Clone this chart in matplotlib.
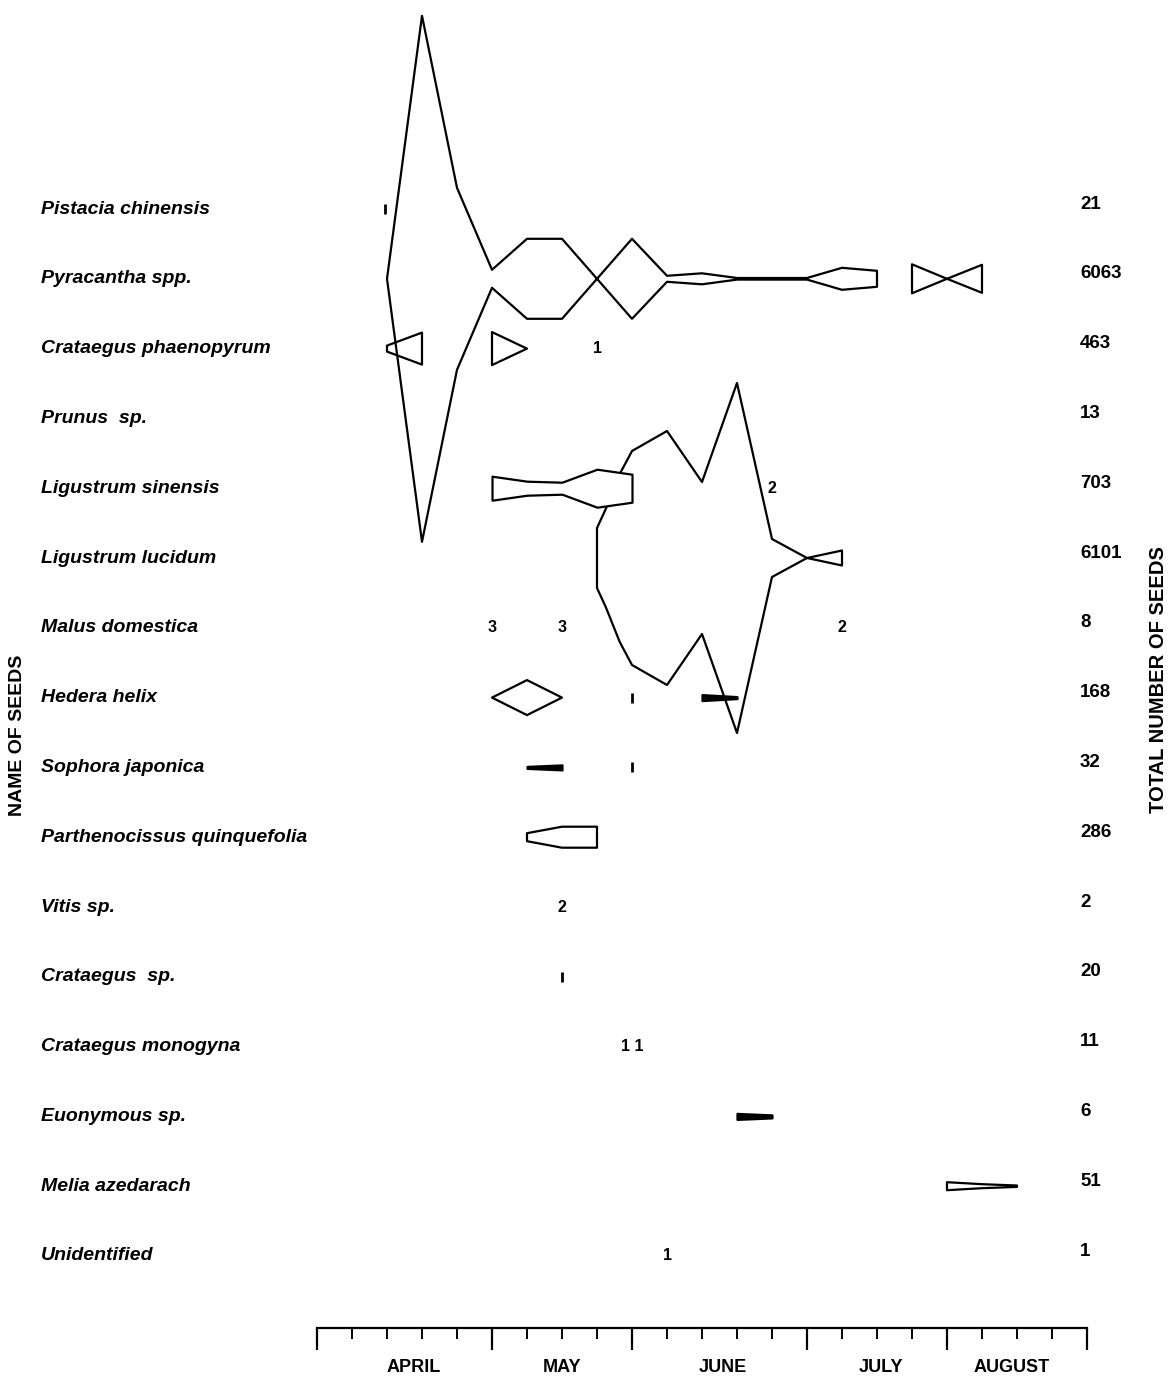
import numpy as np
import matplotlib.pyplot as plt
from matplotlib.ticker import FixedLocator

# Seeds found per week (x axis in weeks from start of April)
species = ["Pistacia chinensis", "Pyracantha spp.", "Crataegus phaenopyrum",
           "Prunus  sp.", "Ligustrum sinensis", "Ligustrum lucidum",
           "Malus domestica", "Hedera helix", "Sophora japonica",
           "Parthenocissus quinquefolia", "Vitis sp.", "Crataegus  sp.",
           "Crataegus monogyna", "Euonymous sp.", "Melia azedarach",
           "Unidentified"]
totals = [21, 6063, 463, 13, 703, 6101, 8, 168, 32, 286, 2, 20, 11, 6, 51, 1]

months = ["APRIL", "MAY", "JUNE", "JULY", "AUGUST"]
month_label_wk = [2.75, 7.0, 11.6, 16.1, 19.85]
month_start_wk = [0, 5, 9, 14, 18, 22]

# kite half-widths (relative abundance)
pyr_wk_a = [2, 3, 4, 5, 6, 7, 8, 9, 10, 11, 12, 13, 14, 15, 16]
pyr_hw_a = [0, 263, 91, 9, 40, 40, 0, 40, 3, 5.5, 0.8, 0.8, 0.8, 11, 8]
pyr_wk_b = [17, 18, 19]
pyr_hw_b = [14.5, 0, 14]
cph_wk_a = [2, 3]
cph_hw_a = [3, 16]
cph_wk_b = [5, 6]
cph_hw_b = [16.5, 0]
lsi_wk = [5, 6, 7, 8, 9]
lsi_hw = [12, 7, 6, 19, 14]
llu_wk_a = [8, 8.25, 8.65, 9, 10, 11, 12, 13, 14]
llu_hw_a = [30, 49, 84, 107, 127, 76, 175, 19, 0]
llu_wk_b = [14, 15]
llu_hw_b = [0, 7.5]
hed_wk = [5, 6, 7]
hed_hw = [0, 17.5, 0]
hed_wk_b = [11, 12]
hed_hw_b = [3, 1]
sop_wk = [6, 7]
sop_hw = [1, 2.5]
par_wk = [6, 7, 8]
par_hw = [4, 10.5, 10.5]
euo_wk = [12, 13]
euo_hw = [3, 1.5]
mel_wk = [18, 19, 20]
mel_hw = [4, 2, 0.7]

open_kites = [(1, pyr_wk_a, pyr_hw_a), (1, pyr_wk_b, pyr_hw_b),
              (2, cph_wk_a, cph_hw_a), (2, cph_wk_b, cph_hw_b),
              (5, llu_wk_a, llu_hw_a), (5, llu_wk_b, llu_hw_b),
              (7, hed_wk, hed_hw), (9, par_wk, par_hw), (14, mel_wk, mel_hw)]
covering_kites = [(4, lsi_wk, lsi_hw)]
solid_kites = [(7, hed_wk_b, hed_hw_b), (8, sop_wk, sop_hw),
               (13, euo_wk, euo_hw)]

# small counts written as numbers
count_rows = [2, 4, 6, 6, 6, 10, 12, 15]
count_wk = [8, 13, 5, 7, 15, 7, 9, 10]
count_txt = ["1", "2", "3", "3", "2", "2", "1 1", "1"]

# single seeds drawn as a short bar
single_rows = [0, 7, 8, 11]
single_wk = [1.95, 9, 9, 7]

SCALE = 1 / 69.8
FONT = "Liberation Sans"

fig = plt.figure(figsize=(11.7, 13.76), dpi=100)
ax = fig.add_axes([0, 0, 1, 1])
ax.set_xlim(-317 / 35, (1170 - 317) / 35)
ax.set_ylim((1376 - 209) / 69.8, -209 / 69.8)

for row, wk, hw in open_kites:
    hw = np.array(hw) * SCALE
    ax.fill_between(wk, row - hw, row + hw, facecolor="none",
                    edgecolor="black", linewidth=1.6, zorder=3)
for row, wk, hw in covering_kites:
    hw = np.array(hw) * SCALE
    ax.fill_between(wk, row - hw, row + hw, facecolor="white",
                    edgecolor="black", linewidth=1.6, zorder=4)
for row, wk, hw in solid_kites:
    hw = np.array(hw) * SCALE
    ax.fill_between(wk, row - hw, row + hw, facecolor="black",
                    edgecolor="black", linewidth=1.6, zorder=5)

for r, w, t in zip(count_rows, count_wk, count_txt):
    ax.text(w, r, t, ha="center", va="center", fontsize=11.5,
            fontweight="bold", family=FONT, zorder=6)
ax.plot(single_wk, single_rows, ls="none", marker="|", ms=7, mew=2,
        color="black", zorder=6)

for i, (name, tot) in enumerate(zip(species, totals)):
    ax.text((41 - 317) / 35, i, name, ha="left", va="center", fontsize=14,
            fontweight="bold", fontstyle="italic", family=FONT)
    ax.text((1080 - 317) / 35, i - 0.07, str(tot), ha="left", va="center",
            fontsize=13.5, fontweight="bold", family=FONT)

# time axis
for s in ["top", "left", "right"]:
    ax.spines[s].set_visible(False)
ax.spines["bottom"].set_position(("data", (1328 - 209) / 69.8))
ax.spines["bottom"].set_bounds(0, 22)
ax.spines["bottom"].set_linewidth(1.6)
ax.xaxis.set_major_locator(FixedLocator(month_start_wk))
ax.xaxis.set_minor_locator(FixedLocator([w for w in range(23) if w not in month_start_wk]))
ax.tick_params(axis="x", which="major", direction="out", length=16, width=1.6, labelbottom=False)
ax.tick_params(axis="x", which="minor", direction="out", length=8, width=1.4)
ax.set_yticks([])
for m, w in zip(months, month_label_wk):
    ax.text(w, (1367 - 209) / 69.8, m, ha="center", va="center",
            fontsize=13, fontweight="bold", family=FONT)

fig.text(18 / 1170, 1 - 735 / 1376, "NAME OF SEEDS", rotation=90, ha="center",
         va="center", fontsize=14, fontweight="bold", family=FONT)
fig.text(1158 / 1170, 1 - 680 / 1376, "TOTAL NUMBER OF SEEDS", rotation=90,
         ha="center", va="center", fontsize=14.5, fontweight="bold", family=FONT)

fig.savefig("out.png", dpi=100)
